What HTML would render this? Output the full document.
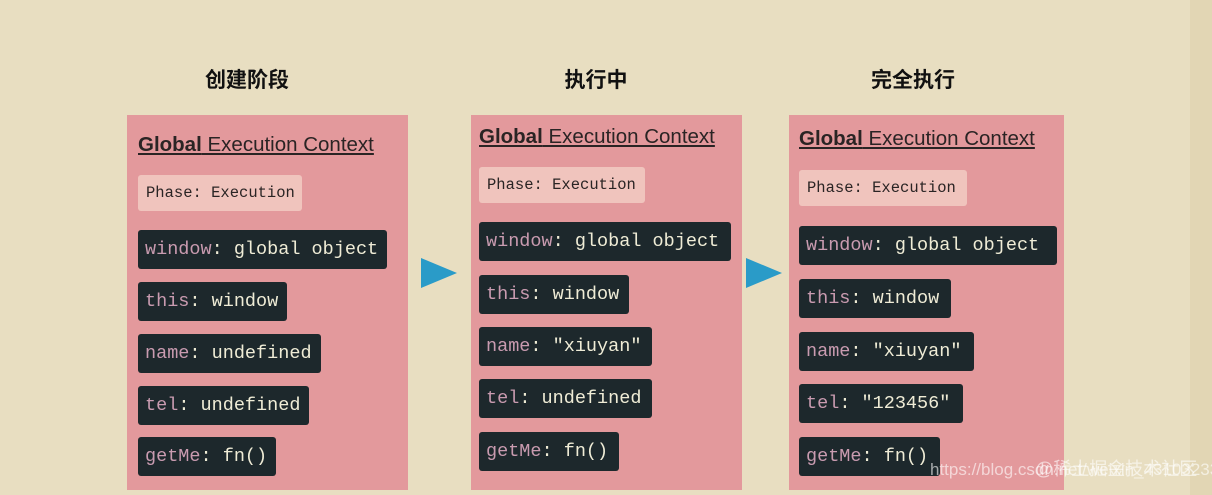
<!DOCTYPE html>
<html><head><meta charset="utf-8"><style>
body{margin:0;width:1212px;height:495px;background:#e8dec1;position:relative;overflow:hidden;font-family:"Liberation Sans","Noto Sans CJK SC",sans-serif}
.strip{position:absolute;left:1190px;top:0;width:22px;height:495px;background:#e2d6b4}
.h{position:absolute;top:64px;font-size:21px;font-weight:bold;color:#111;transform:translateX(-50%);white-space:nowrap}
.p{position:absolute;top:115px;height:375px;background:#e3999c}
.t{position:absolute;font-size:20.5px;color:#2a2424;text-decoration:underline;white-space:nowrap;letter-spacing:0}
.t b{font-weight:bold}
.c{position:absolute;height:39px;line-height:39px;border-radius:3px;background:#1d282c;color:#efecd6;font-family:"Liberation Mono",monospace;font-size:18.5px;padding-left:7px;box-sizing:border-box;white-space:nowrap}
.c span{color:#c99bb0}
.ph{position:absolute;height:36px;line-height:36px;border-radius:3px;background:#f0c4bd;color:#2a2424;font-family:"Liberation Mono",monospace;font-size:15.5px;padding-left:8px;box-sizing:border-box;white-space:nowrap}
.ar{position:absolute;width:0;height:0;border-top:15px solid transparent;border-bottom:15px solid transparent;border-left:36px solid #2a9bc8}
.wm{position:absolute;left:930px;top:460px;font-size:17px;color:rgba(255,255,255,.6);white-space:nowrap}
</style></head><body>
<div class="strip"></div>
<div class="h" style="left:247px">创建阶段</div>
<div class="h" style="left:596px">执行中</div>
<div class="h" style="left:913px">完全执行</div>

<div class="p" style="left:127px;width:281px"></div>
<div class="t" style="left:138px;top:133px"><b>Global</b> Execution Context</div>
<div class="ph" style="left:138px;top:175px;width:164px">Phase: Execution</div>
<div class="c" style="left:138px;top:230px;width:249px"><span>window</span>: global object</div>
<div class="c" style="left:138px;top:282px;width:149px"><span>this</span>: window</div>
<div class="c" style="left:138px;top:334px;width:183px"><span>name</span>: undefined</div>
<div class="c" style="left:138px;top:386px;width:171px"><span>tel</span>: undefined</div>
<div class="c" style="left:138px;top:437px;width:138px"><span>getMe</span>: fn()</div>

<div class="ar" style="left:421px;top:258px"></div>

<div class="p" style="left:471px;width:271px"></div>
<div class="t" style="left:479px;top:125px"><b>Global</b> Execution Context</div>
<div class="ph" style="left:479px;top:167px;width:166px">Phase: Execution</div>
<div class="c" style="left:479px;top:222px;width:252px"><span>window</span>: global object</div>
<div class="c" style="left:479px;top:275px;width:150px"><span>this</span>: window</div>
<div class="c" style="left:479px;top:327px;width:173px"><span>name</span>: "xiuyan"</div>
<div class="c" style="left:479px;top:379px;width:173px"><span>tel</span>: undefined</div>
<div class="c" style="left:479px;top:432px;width:140px"><span>getMe</span>: fn()</div>

<div class="ar" style="left:746px;top:258px"></div>

<div class="p" style="left:789px;width:275px"></div>
<div class="t" style="left:799px;top:127px"><b>Global</b> Execution Context</div>
<div class="ph" style="left:799px;top:170px;width:168px">Phase: Execution</div>
<div class="c" style="left:799px;top:226px;width:258px"><span>window</span>: global object</div>
<div class="c" style="left:799px;top:279px;width:152px"><span>this</span>: window</div>
<div class="c" style="left:799px;top:332px;width:175px"><span>name</span>: "xiuyan"</div>
<div class="c" style="left:799px;top:384px;width:164px"><span>tel</span>: "123456"</div>
<div class="c" style="left:799px;top:437px;width:141px"><span>getMe</span>: fn()</div>

<div class="wm">https://blog.csdn.net/weixin_43103233</div>
<div class="wm" style="left:1035px;top:455px;font-size:18px">@稀土掘金技术社区</div>
</body></html>
